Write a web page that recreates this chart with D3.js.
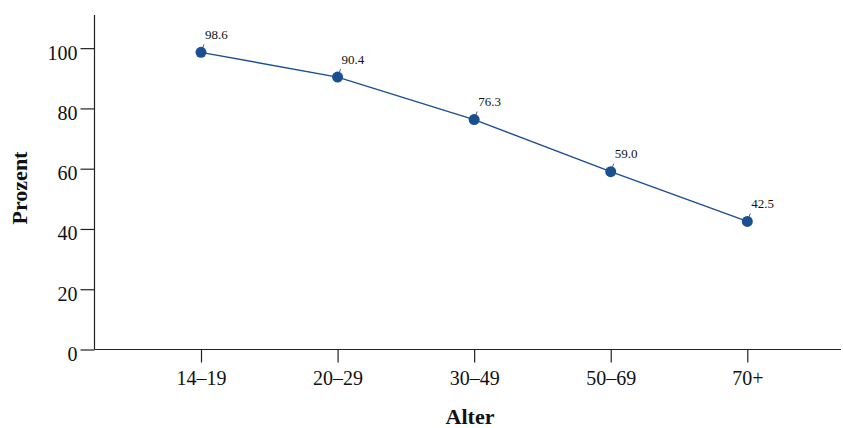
<!DOCTYPE html>
<html><head><meta charset="utf-8">
<script src="https://cdn.jsdelivr.net/npm/d3@7"></script>
<style>body{margin:0;background:#fff}svg{display:block}</style>
</head><body>
<svg id="c" width="843" height="428"></svg>
<script>
const categories = ["14–19", "20–29", "30–49", "50–69", "70+"];
const values = [98.6, 90.4, 76.3, 59.0, 42.5];
const yTicks = [0, 20, 40, 60, 80, 100];
const xTitle = "Alter";
const yTitle = "Prozent";

const svg = d3.select("#c");
const font = "'Liberation Serif', 'DejaVu Serif', serif";
const color = "#1a4f92";
const mLeft = 94.5, mRight = 841, mTop = 15, mBottom = 349.5;

const x = d3.scalePoint().domain(categories).range([201, 747.3]);
const y = d3.scaleLinear().domain([0, 111]).range([mBottom, mTop]);

// y axis
const ya = svg.append("g").attr("transform", `translate(${mLeft},0)`)
  .call(d3.axisLeft(y).tickValues(yTicks).tickSize(14).tickPadding(3).tickSizeOuter(0));
ya.select(".domain").attr("d", `M0,${mTop}V${mBottom}`);
ya.selectAll("text").attr("font-family", font).attr("font-size", 20).attr("dy", "0.55em").attr("fill", "#111");
ya.selectAll("line,path").attr("stroke", "#222").attr("stroke-width", 1.2);

// x axis
const xa = svg.append("g").attr("transform", `translate(0,${mBottom})`)
  .call(d3.axisBottom(x).tickSize(13).tickPadding(8).tickSizeOuter(0));
xa.select(".domain").attr("d", `M${mLeft},0H${mRight}`);
xa.selectAll("text").attr("font-family", font).attr("font-size", 20).attr("fill", "#111");
xa.selectAll("line,path").attr("stroke", "#222").attr("stroke-width", 1.2);

// line
const line = d3.line().x((d, i) => x(categories[i])).y(d => y(d));
svg.append("path").datum(values).attr("d", line).attr("fill", "none")
  .attr("stroke", color).attr("stroke-width", 1.4);

// leader lines
svg.selectAll(".lead").data(values).join("line")
  .attr("x1", (d, i) => x(categories[i])).attr("y1", d => y(d))
  .attr("x2", (d, i) => x(categories[i]) + 3).attr("y2", d => y(d) - 8)
  .attr("stroke", "#333").attr("stroke-width", 0.8);

// points
svg.selectAll(".pt").data(values).join("circle")
  .attr("cx", (d, i) => x(categories[i])).attr("cy", d => y(d)).attr("r", 5.5)
  .attr("fill", color);

// labels
svg.selectAll(".lbl").data(values).join("text")
  .attr("x", (d, i) => x(categories[i]) + 4).attr("y", d => y(d) - 13.5)
  .attr("font-family", font).attr("font-size", 13).attr("fill", "#111")
  .text(d => d.toFixed(1));

// titles
svg.append("text").attr("x", 470).attr("y", 424).attr("text-anchor", "middle")
  .attr("font-family", font).attr("font-size", 22).attr("font-weight", "bold").attr("fill", "#111")
  .text(xTitle);
svg.append("text").attr("transform", "translate(27,188) rotate(-90)").attr("text-anchor", "middle")
  .attr("font-family", font).attr("font-size", 22).attr("font-weight", "bold").attr("fill", "#111")
  .text(yTitle);
</script>
</body></html>
